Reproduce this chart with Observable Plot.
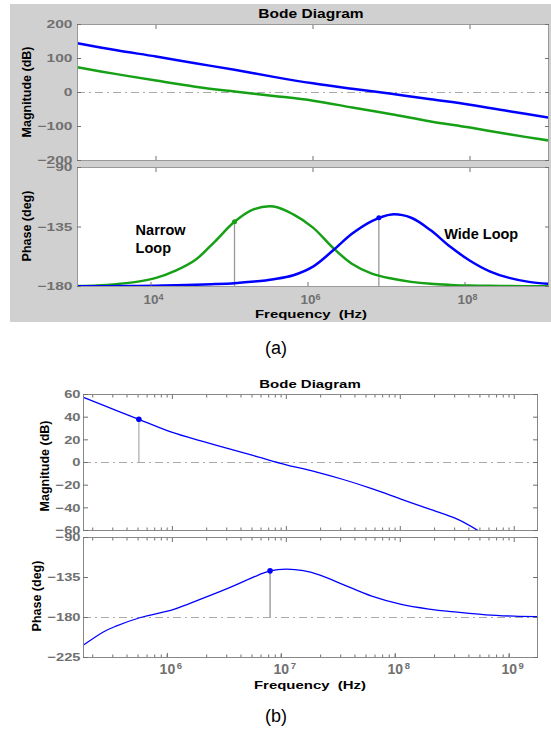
<!DOCTYPE html>
<html><head><meta charset="utf-8">
<script src="https://cdn.jsdelivr.net/npm/d3@7"></script>
<script src="https://cdn.jsdelivr.net/npm/@observablehq/plot@0.6"></script>
<style>
html,body{margin:0;padding:0;background:#fff}
body{width:551px;height:731px;position:relative;overflow:hidden;font-family:"Liberation Sans",Arial,sans-serif}
#bgA{position:absolute;left:10px;top:4px;width:541px;height:318px;background:#d0d0d0}
.t{position:absolute;font-weight:bold;color:#000;white-space:pre;transform:translate(-50%,-50%) scale(1.15,0.9);line-height:1}
.r{transform:translate(-50%,-50%) rotate(-90deg)}
.cap{position:absolute;font-weight:normal;color:#000;font-size:18px;transform:translate(-50%,-50%);line-height:1}
</style></head>
<body>
<div id="bgA"></div>
<div id="root"></div>
<div class="t" style="left:311px;top:14px;font-size:13.5px">Bode Diagram</div>
<div class="t r" style="left:27px;top:92px;font-size:12.5px">Magnitude (dB)</div>
<div class="t r" style="left:27px;top:226px;font-size:12.5px">Phase (deg)</div>
<div class="t" style="left:311px;top:314px;font-size:13px">Frequency  (Hz)</div>
<div class="cap" style="left:276px;top:348px">(a)</div>
<div class="t" style="left:310px;top:384px;font-size:13px">Bode Diagram</div>
<div class="t r" style="left:45px;top:466px;font-size:12.5px">Magnitude (dB)</div>
<div class="t r" style="left:37px;top:596px;font-size:12.5px">Phase (deg)</div>
<div class="t" style="left:310px;top:685px;font-size:13px">Frequency  (Hz)</div>
<div class="cap" style="left:276px;top:716px">(b)</div>
<script>
// ---------- Panel (a) data ----------
const freqA = [1e3, 3.16e3, 1e4, 3.16e4, 1e5, 3.16e5, 1e6, 3.16e6, 1e7, 3.16e7, 1e8, 3.16e8, 1e9];
const wideMagA   = [145, 124, 106, 86, 67, 46, 27, 11, -4, -20, -36, -55, -74];
const narrowMagA = [74, 54, 35, 17, 3, -10, -24, -44, -64, -85, -103, -123, -141];
const freqAP = [1e3,1.78e3,3.16e3,5.62e3,1e4,1.78e4,3.16e4,5.62e4,1e5,1.78e5,3.16e5,5.62e5,1e6,1.78e6,3.16e6,5.62e6,1e7,1.78e7,3.16e7,5.62e7,1e8,1.78e8,3.16e8,5.62e8,1e9];
const narrowPhaseA = [-179.7,-179.3,-178.2,-176.5,-173.5,-168,-160,-146,-131,-121.5,-119.5,-125.5,-135.5,-150.5,-163,-170.3,-174,-176.5,-178,-178.8,-179.3,-179.5,-179.7,-179.8,-179.9];
const widePhaseA   = [-179.9,-179.8,-179.7,-179.6,-179.4,-179.1,-178.7,-178.2,-177.5,-176.3,-174.5,-171.5,-165,-153,-140,-130.5,-125.5,-128,-137.5,-150,-160.5,-168.5,-173.5,-176.5,-178];
const markerSeriesA = ["Narrow Loop", "Wide Loop"];
const markerFreqA = [1e5, 6.9e6];
const markerPhaseA = [-131, -128];
const annoTextA = ["Narrow\nLoop", "Wide Loop"];
const annoFreqA = [5.5e3, 4.7e7];
const annoPhaseA = [-143.3, -139.7];
const magTicksA = [-200, -100, 0, 100, 200];
const phaseTicksA = [-180, -135, -90];
const freqTicksA = [1e4, 1e6, 1e8];
const freqTickBaseA = ["10", "10", "10"];
const freqTickExpA = ["4", "6", "8"];

// ---------- Panel (b) data ----------
const freqBM = [1.66e5, 3.16e5, 5.08e5, 1e6, 1.78e6, 3.16e6, 5.62e6, 1e7, 1.78e7, 3.16e7, 5.62e7, 1e8, 1.78e8, 3.16e8, 4.9e8];
const magB   = [57.5, 46.3, 38.1, 26.5, 19, 12, 5, -2, -8, -15, -23, -32, -41, -50, -60.5];
const freqBP = [1.66e5, 2.5e5, 3.16e5, 5.25e5, 1e6, 1.41e6, 3.1e6, 5.62e6, 7.2e6, 1e7, 1.41e7, 2e7, 3.16e7, 5.62e7, 1e8, 1.78e8, 3.16e8, 5.62e8, 1e9, 1.58e9];
const phaseB = [-211, -196, -190, -180, -171.4, -164.3, -147, -132.5, -127.5, -125.6, -127.3, -132.5, -143, -156, -165, -170.5, -174, -177, -178.5, -179];
const markerMagFreqB = [5.08e5];
const markerMagB = [38.1];
const markerPhaseFreqB = [7.2e6];
const markerPhaseB = [-127.5];
const magTicksB = [-60, -40, -20, 0, 20, 40, 60];
const phaseTicksB = [-225, -180, -135, -90];
const freqTicksB = [1e6, 1e7, 1e8, 1e9];
const freqTickBaseB = ["10", "10", "10", "10"];
const freqTickExpB = ["6", "7", "8", "9"];
const minorTicksB = [2e5,3e5,4e5,5e5,6e5,7e5,8e5,9e5,2e6,3e6,4e6,5e6,6e6,7e6,8e6,9e6,2e7,3e7,4e7,5e7,6e7,7e7,8e7,9e7,2e8,3e8,4e8,5e8,6e8,7e8,8e8,9e8];

// ---------- helpers ----------
const BLUE = "#0000ff", GREEN = "#16a016", TICK = "#707070";
const root = document.getElementById("root");
const rows = (xs, ys) => xs.map((x, i) => ({x, y: ys[i]}));
function squish(svg, sx, sy) {
  svg.querySelectorAll('g[aria-label="y-axis tick label"] text').forEach(t => {
    const tr = t.getAttribute("transform");
    if (tr && tr.includes("translate")) t.setAttribute("transform", tr + ` scale(${sx},${sy})`);
  });
  return svg;
}
function place(svg, top) {
  svg.style.position = "absolute";
  svg.style.left = "0px";
  svg.style.top = top + "px";
  root.append(svg);
}
const baseStyle = (fs) => ({background: "transparent", overflow: "visible",
  fontFamily: "'Liberation Sans', Arial, sans-serif", fontSize: fs + "px", fontWeight: "bold"});
const dashDot = "8,4,2,4";
const fmtMap = (ticks, labels) => { const m = new Map(ticks.map((t, i) => [t, labels[i]])); return d => m.get(d) ?? ""; };
const CURVE = "catmull-rom";

// ---------- (a) magnitude ----------
place(squish(Plot.plot({
  width: 551, height: 175, marginLeft: 77, marginRight: 3, marginTop: 24, marginBottom: 15,
  x: {type: "log", domain: [1e3, 1e9]},
  y: {domain: [-200, 200]},
  style: baseStyle(13.5),
  marks: [
    Plot.frame({fill: "white", stroke: "none"}),
    Plot.ruleY([0], {stroke: "#aaa", strokeWidth: 1.2, strokeDasharray: dashDot}),
    Plot.line(rows(freqA, narrowMagA), {x: "x", y: "y", stroke: GREEN, strokeWidth: 2.5, curve: CURVE, clip: true}),
    Plot.line(rows(freqA, wideMagA), {x: "x", y: "y", stroke: BLUE, strokeWidth: 2.5, curve: CURVE, clip: true}),
    Plot.frame({stroke: "#999"}),
    Plot.axisY({ticks: magTicksA, tickSize: -4, tickPadding: 9, color: TICK, label: null}),
    Plot.axisY({anchor: "right", ticks: magTicksA, tickSize: -4, tickFormat: () => "", color: TICK, label: null}),
    Plot.axisX({anchor: "top", ticks: freqTicksA, tickSize: -4, tickFormat: () => "", color: TICK, label: null}),
    Plot.axisX({anchor: "bottom", ticks: freqTicksA, tickSize: -4, tickFormat: () => "", color: TICK, label: null})
  ]
}), 1.15, 0.82), 0);

// ---------- (a) phase ----------
place(squish(Plot.plot({
  width: 551, height: 306, marginLeft: 77, marginRight: 3, marginTop: 167, marginBottom: 20,
  x: {type: "log", domain: [1e3, 1e9]},
  y: {domain: [-180, -90]},
  style: baseStyle(13.5),
  marks: [
    Plot.frame({fill: "white", stroke: "none"}),
    Plot.ruleY([-180], {stroke: "#aaa", strokeWidth: 1.2, strokeDasharray: dashDot}),
    Plot.ruleX(rows(markerFreqA, markerPhaseA), {x: "x", y1: -180, y2: "y", stroke: "#999", strokeWidth: 1.3}),
    Plot.line(rows(freqAP, narrowPhaseA), {x: "x", y: "y", stroke: GREEN, strokeWidth: 2.5, curve: CURVE, clip: true}),
    Plot.line(rows(freqAP, widePhaseA), {x: "x", y: "y", stroke: BLUE, strokeWidth: 2.5, curve: CURVE, clip: true}),
    Plot.dot(markerFreqA.map((f, i) => ({x: f, y: markerPhaseA[i], s: markerSeriesA[i]})), {x: "x", y: "y", r: 2.5, fill: d => d.s === "Narrow Loop" ? GREEN : BLUE}),
    Plot.text(annoTextA.map((t, i) => ({t, x: annoFreqA[i], y: annoPhaseA[i]})), {x: "x", y: "y", text: "t", textAnchor: "start", lineHeight: 1.24, fontSize: 14.5, fontWeight: "bold", fill: "#000"}),
    Plot.frame({stroke: "#999"}),
    Plot.axisY({ticks: phaseTicksA, tickSize: -4, tickPadding: 9, color: TICK, label: null}),
    Plot.axisY({anchor: "right", ticks: phaseTicksA, tickSize: -4, tickFormat: () => "", color: TICK, label: null}),
    Plot.axisX({anchor: "top", ticks: freqTicksA, tickSize: -4, tickFormat: () => "", color: TICK, label: null}),
    Plot.axisX({anchor: "bottom", ticks: freqTicksA, tickSize: -4, tickPadding: 12, dx: -5, fontSize: 13.5, tickFormat: fmtMap(freqTicksA, freqTickBaseA), color: TICK, label: null}),
    Plot.axisX({anchor: "bottom", ticks: freqTicksA, tickSize: 0, tickPadding: 7, dx: 5, fontSize: 9, tickFormat: fmtMap(freqTicksA, freqTickExpA), color: TICK, label: null})
  ]
}), 1.15, 0.82), 0);

// ---------- (b) magnitude ----------
const xB = {type: "log", domain: [1.66e5, 1.6e9]};
place(squish(Plot.plot({
  width: 551, height: 172, marginLeft: 83, marginRight: 14, marginTop: 24, marginBottom: 12,
  x: xB, y: {domain: [-60, 60]},
  style: baseStyle(14),
  marks: [
    Plot.ruleY([0], {stroke: "#aaa", strokeWidth: 1.2, strokeDasharray: dashDot}),
    Plot.ruleX(rows(markerMagFreqB, markerMagB), {x: "x", y1: 0, y2: "y", stroke: "#bbb", strokeWidth: 1.5}),
    Plot.line(rows(freqBM, magB), {x: "x", y: "y", stroke: BLUE, strokeWidth: 1.3, curve: CURVE, clip: true}),
    Plot.dot(rows(markerMagFreqB, markerMagB), {x: "x", y: "y", r: 2.8, fill: BLUE}),
    Plot.frame({stroke: "#888"}),
    Plot.axisY({ticks: magTicksB, tickSize: -5, tickPadding: 8, color: TICK, label: null}),
    Plot.axisY({anchor: "right", ticks: magTicksB, tickSize: -5, tickFormat: () => "", color: TICK, label: null}),
    Plot.axisX({anchor: "top", ticks: freqTicksB, tickSize: -4, tickFormat: () => "", color: TICK, label: null}),
    Plot.axisX({anchor: "top", ticks: minorTicksB, tickSize: -2.5, tickFormat: () => "", color: TICK, label: null}),
    Plot.axisX({anchor: "bottom", ticks: freqTicksB, tickSize: -4, tickFormat: () => "", color: TICK, label: null}),
    Plot.axisX({anchor: "bottom", ticks: minorTicksB, tickSize: -2.5, tickFormat: () => "", color: TICK, label: null})
  ]
}), 1.05, 0.82), 370);

// ---------- (b) phase ----------
place(squish(Plot.plot({
  width: 551, height: 312, marginLeft: 83, marginRight: 14, marginTop: 167, marginBottom: 25,
  x: xB, y: {domain: [-225, -90]},
  style: baseStyle(14),
  marks: [
    Plot.ruleY([-180], {stroke: "#aaa", strokeWidth: 1.2, strokeDasharray: dashDot}),
    Plot.ruleX(rows(markerPhaseFreqB, markerPhaseB), {x: "x", y1: -180, y2: "y", stroke: "#888", strokeWidth: 1.2}),
    Plot.line(rows(freqBP, phaseB), {x: "x", y: "y", stroke: BLUE, strokeWidth: 1.3, curve: CURVE, clip: true}),
    Plot.dot(rows(markerPhaseFreqB, markerPhaseB), {x: "x", y: "y", r: 2.8, fill: BLUE}),
    Plot.frame({stroke: "#888"}),
    Plot.axisY({ticks: phaseTicksB, tickSize: -5, tickPadding: 8, color: TICK, label: null}),
    Plot.axisY({anchor: "right", ticks: phaseTicksB, tickSize: -5, tickFormat: () => "", color: TICK, label: null}),
    Plot.axisX({anchor: "top", ticks: freqTicksB, tickSize: -4, tickFormat: () => "", color: TICK, label: null}),
    Plot.axisX({anchor: "top", ticks: minorTicksB, tickSize: -2.5, tickFormat: () => "", color: TICK, label: null}),
    Plot.axisX({anchor: "bottom", ticks: minorTicksB, tickSize: -2.5, tickFormat: () => "", color: TICK, label: null}),
    Plot.axisX({anchor: "bottom", ticks: freqTicksB, tickSize: -4, tickPadding: 11, dx: -5, fontSize: 14, tickFormat: fmtMap(freqTicksB, freqTickBaseB), color: TICK, label: null}),
    Plot.axisX({anchor: "bottom", ticks: freqTicksB, tickSize: 0, tickPadding: 5, dx: 7, fontSize: 9.5, tickFormat: fmtMap(freqTicksB, freqTickExpB), color: TICK, label: null})
  ]
}), 1.05, 0.82), 370);
</script>
</body></html>
